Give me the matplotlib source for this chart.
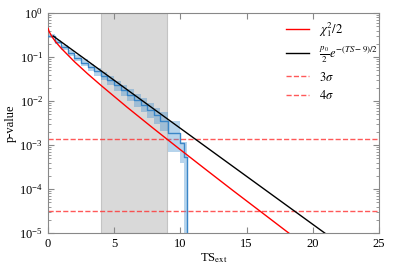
import matplotlib
matplotlib.use("Agg")
import matplotlib.pyplot as plt
import numpy as np

plt.rcParams['font.family'] = ['Liberation Serif', 'DejaVu Serif']
plt.rcParams['mathtext.fontset'] = 'stix'
plt.rcParams['font.size'] = 9

# Empirical survival function (step) with uncertainty band
edges = [0, 0.5, 1, 1.5, 2, 2.5, 3, 3.5, 4, 4.5, 5, 5.5, 6, 6.5, 7, 7.5, 8, 8.5, 9.1, 10.0, 10.3, 10.5]
pval = [0.30, 0.22, 0.165, 0.125, 0.097, 0.075, 0.059, 0.047, 0.037, 0.030, 0.023, 0.018,
        0.0140, 0.0108, 0.0083, 0.0064, 0.0048, 0.0036, 0.0019, 0.0011, 0.00053]
upper = [0.33, 0.245, 0.185, 0.142, 0.112, 0.088, 0.070, 0.056, 0.045, 0.037, 0.029, 0.023,
         0.0185, 0.0145, 0.0115, 0.0090, 0.0070, 0.0055, 0.0035, 0.0012, 0.0012]
lower = [0.27, 0.195, 0.145, 0.108, 0.083, 0.063, 0.049, 0.038, 0.030, 0.023, 0.017, 0.013,
         0.0100, 0.0075, 0.0056, 0.0042, 0.0030, 0.0021, 0.0007, 0.00039, 1e-6]

# chi2_1/2 curve
chi_x = [0.02, 0.1, 0.3, 0.6, 1, 2, 3, 4, 6, 8, 10, 12, 14, 16, 18, 18.5]
chi_y = [0.444, 0.376, 0.292, 0.219, 0.159, 0.0786, 0.0416, 0.0228, 0.00715, 0.00234,
         0.000783, 0.000266, 9.1e-5, 3.17e-5, 1.1e-5, 8.5e-6]

# exponential tail model p0/2 exp(-(TS-9)/2)
exp_x = [0.4, 21.0]
exp_y = [0.30, 9.5e-6]

sigma_levels = [1.35e-3, 3.17e-5]
sigma_labels = [r'$3\sigma$', r'$4\sigma$']

fig = plt.figure(figsize=(3.99, 2.66), dpi=100)
ax = fig.add_axes([0.120, 0.124, 0.830, 0.827])

ax.axvspan(4, 9, facecolor='#d9d9d9', edgecolor='#c4c4c4', lw=0.8, zorder=0)

ax.stairs(upper, edges, baseline=lower, fill=True, color='#4a95d0', alpha=0.4, lw=0, zorder=2)
sx = np.repeat(edges, 2)[1:-1]
sy = np.repeat(pval, 2)
ax.plot(sx, sy, color='#3a86c8', lw=1.0, zorder=3)
ax.vlines(edges[-1], 1e-6, pval[-1], color='#3a86c8', lw=1.0, zorder=3)

ax.plot(chi_x, chi_y, color='#ff0000', lw=1.0, label=r'$\chi^2_1/2$', zorder=4)
ax.plot(exp_x, exp_y, color='black', lw=1.0, label=r'$\frac{p_0}{2}e^{-(TS-9)/2}$', zorder=4)
for lvl, lab in zip(sigma_levels, sigma_labels):
    ax.axhline(lvl, color='#ff3030', ls='--', lw=1.0, alpha=0.8, label=lab, zorder=1)

ax.set_yscale('log')
ax.set_xlim(0, 25)
ax.set_ylim(1e-5, 1)
ax.set_xticks([0, 5, 10, 15, 20, 25])
ax.set_xlabel(r'TS$_{\rm ext}$', labelpad=1)
ax.set_ylabel('p-value', labelpad=2)

for s in ax.spines.values():
    s.set_color('#888888')
ax.tick_params(which='both', direction='in', top=True, right=True, color='#888888')
ax.tick_params(which='major', length=4)
ax.tick_params(which='minor', length=2)
ax.tick_params(axis='x', which='minor', top=False, bottom=False)

leg = ax.legend(loc='upper right', frameon=False, handlelength=1.8, handletextpad=0.8,
                labelspacing=0.45, bbox_to_anchor=(1.03, 1.02))

fig.savefig('out.png', dpi=100)
